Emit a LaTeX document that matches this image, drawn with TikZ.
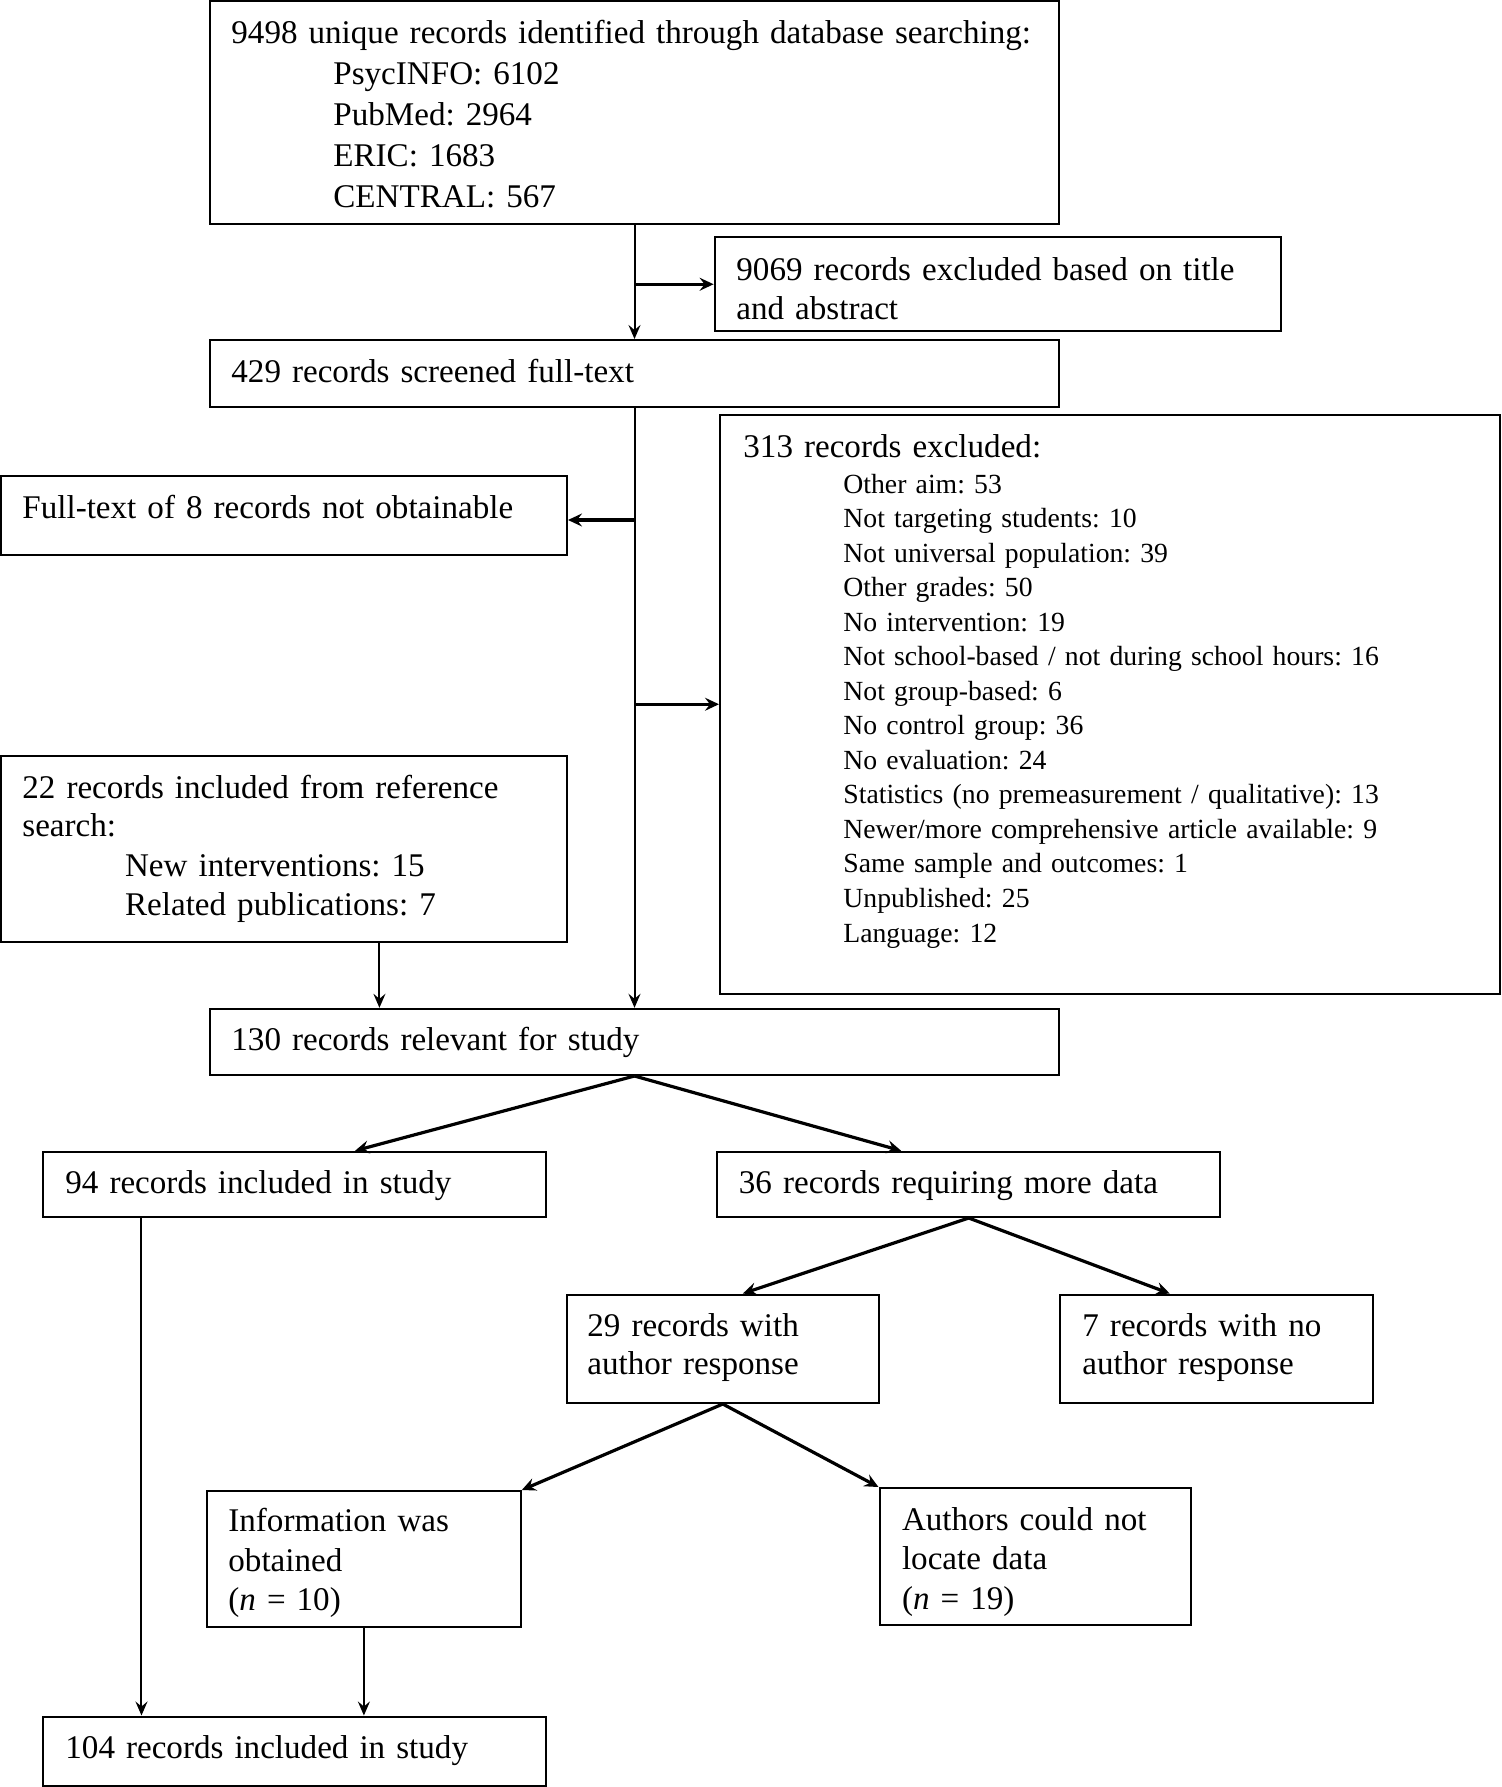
\documentclass[tikz,border=0pt]{standalone}
\usepackage{fontspec}
\setmainfont{Liberation Serif}
\usetikzlibrary{arrows.meta,fit,calc}
\begin{document}
\frenchspacing
\begin{tikzpicture}[x=0.5pt,y=-0.5pt,
  box/.style={draw, line width=1pt, inner sep=0pt},
  txt/.style={anchor=base west, inner sep=0pt, align=left, text width=30cm},
  big/.style={txt, font=\fontsize{16.55}{19.8}\selectfont\frenchspacing},
  small/.style={txt, font=\fontsize{13.85}{17.27}\selectfont\frenchspacing},
  arr/.style={line width=1pt, -{Stealth[length=7pt,width=6pt,inset=2.5pt]}},
  arrthick/.style={line width=1.6pt, -{Stealth[length=7pt,width=6.5pt,inset=2.5pt]}}]
\useasboundingbox (0,0) rectangle (1502,1787);
% boxes
\node[box, fit={(210,1) (1059,224)}] (b1) {};
\node[box, fit={(714.6,237.5) (1280.5,331)}] (b2) {};
\node[box, fit={(210,340) (1059,407)}] (b3) {};
\node[box, fit={(720,415) (1500,993.5)}] (b4) {};
\node[box, fit={(1,476) (567,555)}] (b5) {};
\node[box, fit={(1,756) (567,942)}] (b6) {};
\node[box, fit={(210,1008.8) (1059,1075)}] (b7) {};
\node[box, fit={(43,1151.7) (546,1217)}] (b8) {};
\node[box, fit={(717.4,1151.7) (1220,1217)}] (b9) {};
\node[box, fit={(567,1294.5) (878.6,1403)}] (b10) {};
\node[box, fit={(1060,1294.5) (1372.5,1403)}] (b11) {};
\node[box, fit={(207,1491) (520.8,1627.3)}] (b12) {};
\node[box, fit={(879.5,1488) (1191,1624.7)}] (b13) {};
\node[box, fit={(43,1716.5) (546,1785.5)}] (b14) {};
% texts
\node[big] (t1) at (231,44) {9498 unique records identified through database searching:};
\node[big, font=\fontsize{16.55}{20.5}\selectfont] (t1l) at (333,85) {PsycINFO: 6102\\PubMed: 2964\\ERIC: 1683\\CENTRAL: 567};
\node[big, font=\fontsize{16.55}{19.75}\selectfont] (t2) at (736,280) {9069 records excluded based on title\\and abstract};
\node[big] (t3) at (231,382) {429 records screened full-text};
\node[big] (t4) at (743,457) {313 records excluded:};
\node[small] (t4l) at (843,493) {Other aim: 53\\Not targeting students: 10\\Not universal population: 39\\Other grades: 50\\No intervention: 19\\Not school-based / not during school hours: 16\\Not group-based: 6\\No control group: 36\\No evaluation: 24\\Statistics (no premeasurement / qualitative): 13\\Newer/more comprehensive article available: 9\\Same sample and outcomes: 1\\Unpublished: 25\\Language: 12};
\node[big] (t5) at (22,518) {Full-text of 8 records not obtainable};
\node[big, font=\fontsize{16.55}{18.75}\selectfont] (t6) at (22,798.5) {22 records included from reference\\search:};
\node[big, font=\fontsize{16.55}{19.2}\selectfont] (t6l) at (124.7,876.6) {New interventions: 15\\Related publications: 7};
\node[big] (t7) at (231,1050) {130 records relevant for study};
\node[big] (t8) at (65,1193) {94 records included in study};
\node[big] (t9) at (738.5,1193) {36 records requiring more data};
\node[big, font=\fontsize{16.55}{18.75}\selectfont] (t10) at (587,1336.8) {29 records with\\author response};
\node[big, font=\fontsize{16.55}{18.75}\selectfont] (t11) at (1082,1336.8) {7 records with no\\author response};
\node[big, font=\fontsize{16.55}{19.65}\selectfont] (t12) at (228,1531.7) {Information was\\obtained\\(\textit{n} = 10)};
\node[big, font=\fontsize{16.55}{19.65}\selectfont] (t13) at (901.6,1530.5) {Authors could not\\locate data\\(\textit{n} = 19)};
\node[big] (t14) at (65,1758.5) {104 records included in study};
% connectors
\draw[arr] (b1.south) -- (b3.north);
\draw[arrthick] (b1.south |- b2.west) -- (b2.west);
\draw[arr] (b3.south) -- (b7.north);
\draw[arrthick] ([yshift=-2.25pt]b3.south |- b5.east) -- ([yshift=-2.25pt]b5.east);
\draw[arrthick] (b3.south |- b4.west) -- (b4.west);
\coordinate (s6) at ($(b6.south west)!0.668!(b6.south east)$);
\draw[arr] (s6) -- (s6 |- b7.north);
\draw[arrthick] (b7.south) -- ($(b8.north west)!0.62!(b8.north east)$);
\draw[arrthick] (b7.south) -- ($(b9.north west)!0.366!(b9.north east)$);
\draw[arrthick] (b9.south) -- ($(b10.north west)!0.564!(b10.north east)$);
\draw[arrthick] (b9.south) -- ($(b11.north west)!0.352!(b11.north east)$);
\draw[arrthick] (b10.south) -- (b12.north east);
\draw[arrthick] (b10.south) -- (b13.north west);
\coordinate (s8) at ($(b8.south west)!0.197!(b8.south east)$);
\draw[arr] (s8) -- (s8 |- b14.north);
\draw[arr] (b12.south) -- (b12.south |- b14.north);
\end{tikzpicture}
\end{document}
